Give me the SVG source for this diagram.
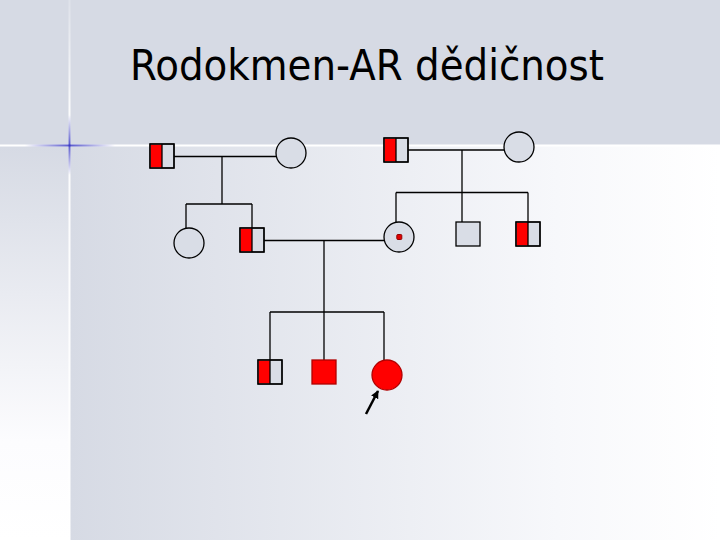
<svg xmlns="http://www.w3.org/2000/svg" width="720" height="540" viewBox="0 0 720 540">
<defs>
<linearGradient id="gMain" x1="0" y1="0" x2="1" y2="0">
<stop offset="0" stop-color="#d6dae4"/>
<stop offset="0.75" stop-color="#f7f8fb"/>
<stop offset="1" stop-color="#ffffff"/>
</linearGradient>
<linearGradient id="gLeft" x1="0" y1="0" x2="0" y2="1">
<stop offset="0" stop-color="#d6dae4"/>
<stop offset="0.75" stop-color="#fcfcfe"/>
<stop offset="1" stop-color="#ffffff"/>
</linearGradient>
<linearGradient id="gVLine" x1="0" y1="0" x2="0" y2="1">
<stop offset="0" stop-color="#ffffff" stop-opacity="0.2"/>
<stop offset="0.2" stop-color="#ffffff" stop-opacity="0.9"/>
<stop offset="1" stop-color="#ffffff"/>
</linearGradient>
<linearGradient id="gHBlue" x1="0" y1="0" x2="1" y2="0">
<stop offset="0" stop-color="#3030c0" stop-opacity="0"/>
<stop offset="0.5" stop-color="#3030c0"/>
<stop offset="1" stop-color="#3030c0" stop-opacity="0"/>
</linearGradient>
<linearGradient id="gVBlue" x1="0" y1="0" x2="0" y2="1">
<stop offset="0" stop-color="#3030c0" stop-opacity="0"/>
<stop offset="0.5" stop-color="#3030c0"/>
<stop offset="1" stop-color="#3030c0" stop-opacity="0"/>
</linearGradient>
<marker id="arr" viewBox="0 0 10 10" refX="9" refY="5" markerWidth="3.2" markerHeight="3.2" orient="auto">
<path d="M0,0 L10,5 L0,10 z" fill="#000"/>
</marker>
<style>
.ln{stroke:#000;stroke-width:1.3;fill:none}
.sh{fill:#d9dde6;stroke:#000;stroke-width:1.3}
.red{fill:#ff0000;stroke:none}
.aff{fill:#ff0000;stroke:#b00000;stroke-width:1.3}
.title{font-family:"DejaVu Sans","Liberation Sans",sans-serif;font-size:43px;fill:#000}
</style>
</defs>
<rect x="0" y="0" width="720" height="540" fill="#d6dae4"/>
<rect x="70" y="146" width="650" height="394" fill="url(#gMain)"/>
<rect x="0" y="146" width="69" height="394" fill="url(#gLeft)"/>
<rect x="0" y="144.5" width="720" height="2" fill="#ffffff"/>
<rect x="68.5" y="0" width="2" height="540" fill="url(#gVLine)"/>
<rect x="25" y="144.5" width="90" height="2" fill="url(#gHBlue)" opacity="0.8"/>
<rect x="68.5" y="115" width="2" height="60" fill="url(#gVBlue)" opacity="0.8"/>
<text class="title" x="130" y="80" textLength="474" lengthAdjust="spacingAndGlyphs">Rodokmen-AR dědičnost</text>
<g id="connectors">
<line class="ln" x1="174" y1="156.5" x2="276" y2="156.5"/>
<line class="ln" x1="222" y1="156.5" x2="222" y2="204"/>
<line class="ln" x1="186" y1="204" x2="252" y2="204"/>
<line class="ln" x1="186" y1="204" x2="186" y2="228.5"/>
<line class="ln" x1="252" y1="204" x2="252" y2="228"/>
<line class="ln" x1="408" y1="150" x2="504" y2="150"/>
<line class="ln" x1="462" y1="150" x2="462" y2="192.5"/>
<line class="ln" x1="396" y1="192.5" x2="528" y2="192.5"/>
<line class="ln" x1="396" y1="192.5" x2="396" y2="222"/>
<line class="ln" x1="462" y1="192.5" x2="462" y2="222"/>
<line class="ln" x1="528" y1="192.5" x2="528" y2="222"/>
<line class="ln" x1="264" y1="240.5" x2="384" y2="240.5"/>
<line class="ln" x1="324" y1="240.5" x2="324" y2="312"/>
<line class="ln" x1="270" y1="312" x2="384" y2="312"/>
<line class="ln" x1="270" y1="312" x2="270" y2="360"/>
<line class="ln" x1="324" y1="312" x2="324" y2="360"/>
<line class="ln" x1="384" y1="312" x2="384" y2="360"/>
<line x1="366" y1="414" x2="378" y2="391" stroke="#000" stroke-width="2.5" marker-end="url(#arr)"/>
</g>
<g id="n_gf1">
<rect class="sh" x="150" y="144" width="24" height="24"/>
<rect class="red" x="150.7" y="144.7" width="11.3" height="22.6"/>
<line class="ln" x1="162" y1="144" x2="162" y2="168"/>
<rect x="150" y="144" width="24" height="24" fill="none" stroke="#000" stroke-width="1.3"/>
</g>
<g id="n_gm1"><circle class="sh" cx="291" cy="153" r="15"/></g>
<g id="n_aunt"><circle class="sh" cx="189" cy="243" r="15"/></g>
<g id="n_father">
<rect class="sh" x="240" y="228" width="24" height="24"/>
<rect class="red" x="240.7" y="228.7" width="11.3" height="22.6"/>
<line class="ln" x1="252" y1="228" x2="252" y2="252"/>
<rect x="240" y="228" width="24" height="24" fill="none" stroke="#000" stroke-width="1.3"/>
</g>
<g id="n_gf2">
<rect class="sh" x="384" y="138" width="24" height="24"/>
<rect class="red" x="384.7" y="138.7" width="11.3" height="22.6"/>
<line class="ln" x1="396" y1="138" x2="396" y2="162"/>
<rect x="384" y="138" width="24" height="24" fill="none" stroke="#000" stroke-width="1.3"/>
</g>
<g id="n_gm2"><circle class="sh" cx="519" cy="147" r="15"/></g>
<g id="n_mother">
<circle class="sh" cx="399" cy="237" r="15"/>
<rect x="396.8" y="234.5" width="5" height="5" rx="1" fill="#e00000" stroke="#900000" stroke-width="1"/>
</g>
<g id="n_uncle1"><rect class="sh" x="456" y="222" width="24" height="24"/></g>
<g id="n_uncle2">
<rect class="sh" x="516" y="222" width="24" height="24"/>
<rect class="red" x="516.7" y="222.7" width="11.3" height="22.6"/>
<line class="ln" x1="528" y1="222" x2="528" y2="246"/>
<rect x="516" y="222" width="24" height="24" fill="none" stroke="#000" stroke-width="1.3"/>
</g>
<g id="n_son1">
<rect class="sh" x="258" y="360" width="24" height="24"/>
<rect class="red" x="258.7" y="360.7" width="11.3" height="22.6"/>
<line class="ln" x1="270" y1="360" x2="270" y2="384"/>
<rect x="258" y="360" width="24" height="24" fill="none" stroke="#000" stroke-width="1.3"/>
</g>
<g id="n_son2"><rect class="aff" x="312" y="360" width="24" height="24"/></g>
<g id="n_proband"><circle class="aff" cx="387" cy="375" r="15"/></g>
</svg>
